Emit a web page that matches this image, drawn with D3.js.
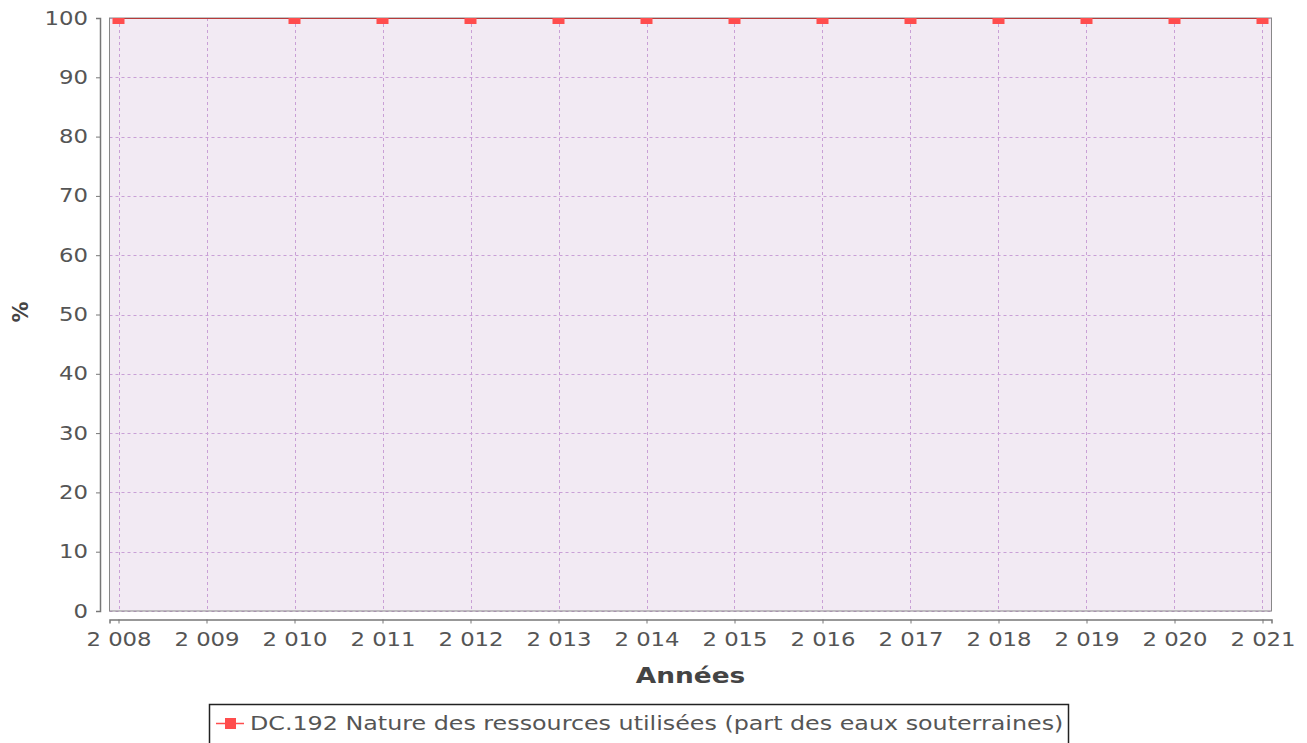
<!DOCTYPE html>
<html>
<head>
<meta charset="utf-8">
<script src="https://cdn.jsdelivr.net/npm/d3@7"></script>
<style>
  body { margin: 0; background: #fff; }
  svg { display: block; font-family: "DejaVu Sans", sans-serif; }
</style>
</head>
<body>
<svg id="chart" width="1307" height="743"></svg>
<script>
// data
const years = [2008, 2010, 2011, 2012, 2013, 2014, 2015, 2016, 2017, 2018, 2019, 2020, 2021];
const values = [100, 100, 100, 100, 100, 100, 100, 100, 100, 100, 100, 100, 100];
const xTicks = d3.range(2008, 2022);
const yTicks = d3.range(0, 101, 10);
const seriesName = "DC.192 Nature des ressources utilisées (part des eaux souterraines)";

const svg = d3.select("#chart");
const plot = { left: 109.5, right: 1271.5, top: 18, bottom: 611 };
const sx = 1.2; // text in the reference is a bit stretched horizontally

const pad = 9 / 88;
const x = d3.scaleLinear().domain([2008 - pad, 2021 + pad]).range([plot.left, plot.right]);
const y = d3.scaleLinear().domain([0, 100]).range([plot.bottom, plot.top]);

const fmtYear = d => { const s = String(d); return s.slice(0, 1) + " " + s.slice(1); };

svg.append("defs").append("clipPath").attr("id", "clip")
  .append("rect")
  .attr("x", plot.left).attr("y", plot.top)
  .attr("width", plot.right - plot.left).attr("height", plot.bottom - plot.top);

// plot background
svg.append("rect")
  .attr("x", plot.left).attr("y", plot.top)
  .attr("width", plot.right - plot.left).attr("height", plot.bottom - plot.top)
  .attr("fill", "#f2eaf3");

// grid
const grid = svg.append("g").attr("stroke", "#c9a0d6").attr("stroke-width", 1).attr("stroke-dasharray", "3 3");
grid.selectAll("line.v").data(xTicks).join("line").attr("class", "v")
  .attr("x1", d => Math.round(x(d)) + 0.5).attr("x2", d => Math.round(x(d)) + 0.5)
  .attr("y1", plot.top).attr("y2", plot.bottom);
grid.selectAll("line.h").data(yTicks).join("line").attr("class", "h")
  .attr("x1", plot.left).attr("x2", plot.right)
  .attr("y1", d => Math.round(y(d)) + 0.5).attr("y2", d => Math.round(y(d)) + 0.5);

// plot outline
svg.append("rect")
  .attr("x", plot.left).attr("y", plot.top)
  .attr("width", plot.right - plot.left).attr("height", plot.bottom - plot.top)
  .attr("fill", "none").attr("stroke", "#888").attr("stroke-width", 1);

// series
const pts = years.map((yr, i) => ({ x: yr, y: values[i] }));
const g = svg.append("g").attr("clip-path", "url(#clip)");
g.append("path")
  .datum(pts)
  .attr("fill", "none").attr("stroke", "#b83a3a").attr("stroke-width", 2)
  .attr("d", d3.line().x(d => x(d.x)).y(d => y(d.y)));
g.selectAll("rect.pt").data(pts).join("rect").attr("class", "pt")
  .attr("x", d => x(d.x) - 6).attr("y", d => y(d.y) - 6)
  .attr("width", 12).attr("height", 12)
  .attr("fill", "#ff4d4d");

// axes
const axisY = svg.append("g").attr("transform", "translate(100,0)")
  .call(d3.axisLeft(y).tickValues(yTicks).tickSize(4));
const axisX = svg.append("g").attr("transform", "translate(0,619.5)")
  .call(d3.axisBottom(x).tickValues(xTicks).tickFormat(fmtYear).tickSize(4).tickPadding(9.5));
[axisY, axisX].forEach(a => {
  a.select(".domain").attr("stroke", "#777").attr("stroke-width", 1.5);
  a.selectAll(".tick line").attr("stroke", "#777");
  a.selectAll(".tick text").attr("fill", "#555").attr("font-size", 19)
    .attr("font-family", "DejaVu Sans, sans-serif");
});
axisX.selectAll(".tick text").attr("transform", `scale(${sx},1)`);
axisY.selectAll(".tick text").attr("x", -12 / sx).attr("transform", `scale(${sx},1)`);

// axis titles
svg.append("text")
  .attr("transform", `translate(${(plot.left + plot.right) / 2},683) scale(${sx},1)`)
  .attr("text-anchor", "middle").attr("font-size", 22).attr("font-weight", "bold")
  .attr("fill", "#444").text("Années");
svg.append("text")
  .attr("transform", "translate(28,312) rotate(-90)")
  .attr("text-anchor", "middle").attr("font-size", 21).attr("font-weight", "bold")
  .attr("fill", "#444").text("%");

// legend
const leg = svg.append("g");
leg.append("rect")
  .attr("x", 209.5).attr("y", 704.5).attr("width", 859).attr("height", 44)
  .attr("fill", "#fff").attr("stroke", "#222").attr("stroke-width", 1.5);
leg.append("line")
  .attr("x1", 216).attr("x2", 244).attr("y1", 723.5).attr("y2", 723.5)
  .attr("stroke", "#ff4d4d").attr("stroke-width", 1.5);
leg.append("rect")
  .attr("x", 225).attr("y", 718).attr("width", 11).attr("height", 11)
  .attr("fill", "#ff4d4d");
leg.append("text")
  .attr("transform", "translate(250,730) scale(1.19,1)")
  .attr("font-size", 20).attr("fill", "#555")
  .text(seriesName);
</script>
</body>
</html>
